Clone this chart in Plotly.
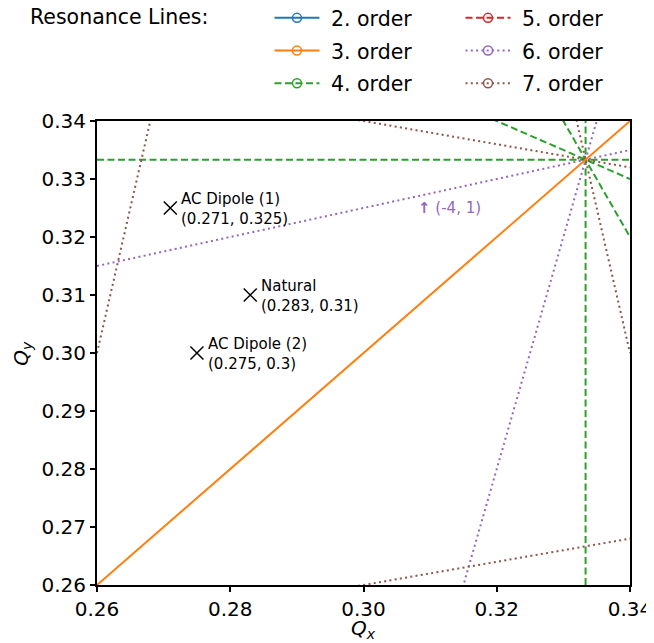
import plotly.graph_objects as go

# ---------------- data ----------------
order_labels = ["2. order", "3. order", "4. order", "5. order", "6. order", "7. order"]
order_colors = ["#1f77b4", "#ff7f0e", "#2ca02c", "#d62728", "#9467bd", "#8c564b"]
order_dashes = ["solid", "solid", "7px,3.5px", "7px,3.5px", "2px,3.3px", "2px,3.3px"]

# resonance lines a*Qx + b*Qy = p, grouped by legend entry
res_lines = {
    "2. order": [],
    "3. order": [(1, -1, 0)],
    "4. order": [(3, 0, 1), (0, 3, 1), (2, 1, 1), (1, 2, 1)],
    "5. order": [],
    "6. order": [(1, -4, -1), (4, -1, 1)],
    "7. order": [(5, -1, 1), (1, -5, -1), (5, 1, 2), (1, 5, 2)],
}

tune_names = ["AC Dipole (1)", "Natural", "AC Dipole (2)"]
tune_qx = [0.271, 0.283, 0.275]
tune_qy = [0.325, 0.31, 0.3]
tune_text = ["(0.271, 0.325)", "(0.283, 0.31)", "(0.275, 0.3)"]

label_text = "(-4, 1)"
label_q = (0.309, 0.325)

q_range = [0.26, 0.34]
x_ticks = [0.26, 0.28, 0.30, 0.32, 0.34]
y_ticks = [0.26, 0.27, 0.28, 0.29, 0.30, 0.31, 0.32, 0.33, 0.34]

# ---------------- figure ----------------
fig = go.Figure()
FONT = "DejaVu Sans"

draw_order = ["4. order", "6. order", "7. order", "3. order"]
for lab in draw_order:
    i = order_labels.index(lab)
    for (a, b, p) in res_lines[lab]:
        if b == 0:
            xs = [p / a, p / a]
            ys = q_range
        else:
            xs = q_range
            ys = [(p - a * x) / b for x in xs]
        fig.add_trace(go.Scatter(
            x=xs, y=ys, mode="lines", showlegend=False, hoverinfo="skip",
            line=dict(color=order_colors[i], width=2, dash=order_dashes[i]),
        ))

# legend entries (two columns)
for i, lab in enumerate(order_labels):
    fig.add_trace(go.Scatter(
        x=[None], y=[None], mode="lines+markers", name="\u00a0" + lab,
        legend="legend" if i < 3 else "legend2",
        legendgroup=lab,
        line=dict(color=order_colors[i], width=2, dash=order_dashes[i]),
        marker=dict(symbol="circle-open", size=9, color=order_colors[i], line=dict(width=1.5)),
    ))

# tunes
fig.add_trace(go.Scatter(
    x=tune_qx, y=tune_qy, mode="markers", showlegend=False,
    marker=dict(symbol="x-thin", size=13, color="black", line=dict(width=1.5, color="black")),
))
for n, qx, qy, t in zip(tune_names, tune_qx, tune_qy, tune_text):
    fig.add_annotation(x=qx, y=qy, text=n + "<br>" + t, showarrow=False,
                       xanchor="left", yanchor="middle", align="left", xshift=9, yshift=-1,
                       font=dict(family=FONT, size=15, color="black"))

fig.add_annotation(x=label_q[0], y=label_q[1], text="<b>↑</b> " + label_text, showarrow=False,
                   xanchor="left", yanchor="middle", xshift=-7,
                   font=dict(family=FONT, size=15, color="#9467bd"))

fig.add_annotation(xref="paper", yref="paper", x=-0.130, y=1.224, text="Resonance Lines:",
                   showarrow=False, xanchor="left", yanchor="middle",
                   font=dict(family=FONT, size=20.5, color="black"))

# axis titles
fig.add_annotation(xref="paper", yref="paper", x=0.5, y=-0.095, text="<i>Q</i><sub><i>x</i></sub>",
                   showarrow=False, xanchor="center", yanchor="middle",
                   font=dict(family=FONT, size=20, color="black"))
fig.add_annotation(xref="paper", yref="paper", x=-0.141, y=0.5, text="<i>Q</i><sub><i>y</i></sub>",
                   showarrow=False, xanchor="center", yanchor="middle", textangle=-90,
                   font=dict(family=FONT, size=20, color="black"))

axis_common = dict(
    range=q_range, showgrid=False, zeroline=False, showline=True, mirror=True,
    linecolor="black", linewidth=2, ticks="outside", ticklen=5, tickwidth=1.5,
    tickcolor="black", tickfont=dict(family=FONT, size=20, color="black"),
)
fig.update_xaxes(**axis_common, tickvals=x_ticks, tickformat=".2f")
fig.update_yaxes(**axis_common, tickvals=y_ticks, tickformat=".2f")

leg_common = dict(font=dict(family=FONT, size=20.5, color="black"), bgcolor="rgba(0,0,0,0)",
                  itemwidth=45, yanchor="top", xanchor="left", tracegroupgap=3, orientation="v")
fig.update_layout(
    width=646, height=635,
    margin=dict(l=89, r=24, t=113, b=58, autoexpand=False),
    plot_bgcolor="white", paper_bgcolor="white",
    font=dict(family=FONT),
    legend=dict(**leg_common, x=0.3236, y=1.265),
    legend2=dict(**leg_common, x=0.682, y=1.265),
)

fig.write_html("out.html")
